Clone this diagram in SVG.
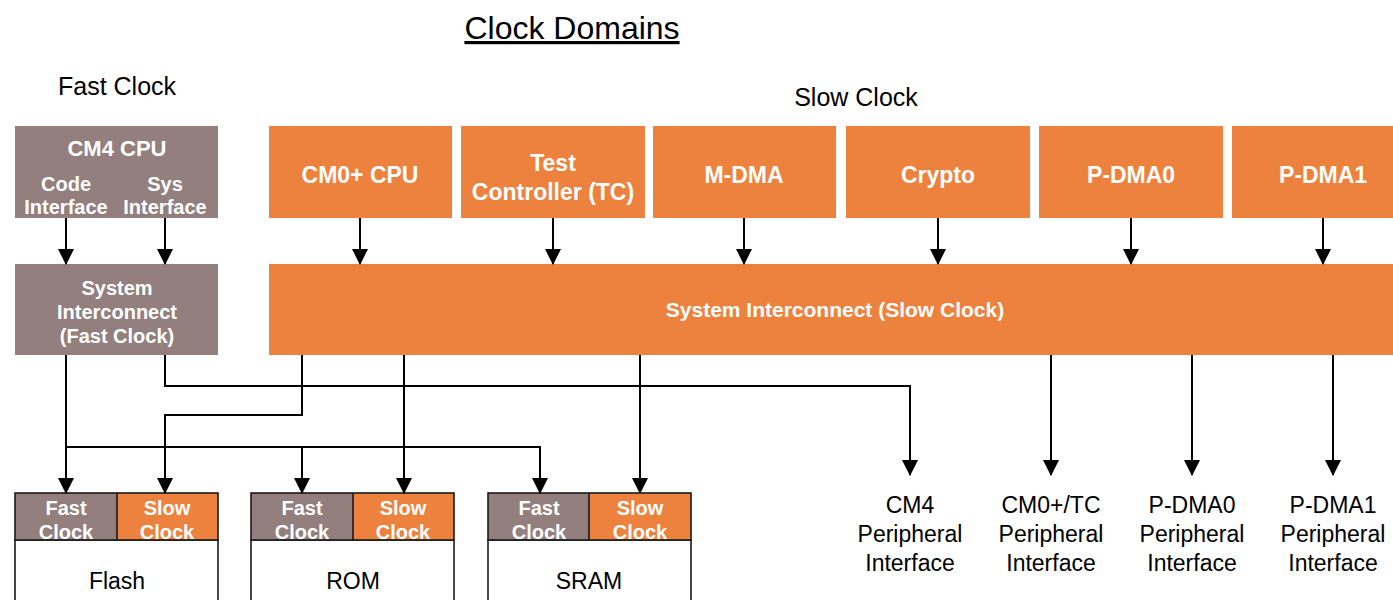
<svg xmlns="http://www.w3.org/2000/svg" width="1393" height="600" viewBox="0 0 1393 600">
  <style>
    text { font-family: "Liberation Sans", Arial, sans-serif; text-anchor: middle; }
    .fast { fill: #927F7E; }
    .slow { fill: #ED823E; }
    .lbl { fill: #FFFFFF; font-weight: bold; }
    .big { font-size: 23px; }
    .mid { font-size: 20px; }
    .plain { fill: #000000; font-size: 23px; }
    .hdr { fill: #000000; font-size: 25px; }
    .frame { fill: none; stroke: #1a1a1a; stroke-width: 1.6; }
    .body { fill: #FFFFFF; stroke: #1a1a1a; stroke-width: 1.6; }
    .wire { fill: none; stroke: #000000; stroke-width: 2; }
    .arr { fill: none; stroke: #000000; stroke-width: 2; marker-end: url(#head); }
  </style>
  <defs>
    <marker id="head" viewBox="0 0 16 16" refX="15" refY="8" markerWidth="16" markerHeight="16" markerUnits="userSpaceOnUse" orient="auto">
      <path d="M0,0 L16,8 L0,16 Z" fill="#000000"/>
    </marker>
  </defs>

  <!-- headings -->
  <g id="headings">
    <text x="572" y="39" font-size="32" text-decoration="underline" fill="#000">Clock Domains</text>
    <text class="hdr" x="117" y="95">Fast Clock</text>
    <text class="hdr" x="856" y="106">Slow Clock</text>
  </g>

  <!-- fast clock domain masters -->
  <g id="cm4-cpu">
    <rect class="fast" x="15" y="126" width="203" height="92"/>
    <text class="lbl" x="117" y="156" font-size="22">CM4 CPU</text>
    <text class="lbl mid" x="66" y="191">Code</text>
    <text class="lbl mid" x="66" y="214">Interface</text>
    <text class="lbl mid" x="165" y="191">Sys</text>
    <text class="lbl mid" x="165" y="214">Interface</text>
  </g>
  <g id="fast-interconnect">
    <rect class="fast" x="15" y="264" width="203" height="91"/>
    <text class="lbl mid" x="117" y="295">System</text>
    <text class="lbl mid" x="117" y="319">Interconnect</text>
    <text class="lbl mid" x="117" y="343">(Fast Clock)</text>
  </g>

  <!-- slow clock domain masters -->
  <g id="cm0-cpu">
    <rect class="slow" x="269" y="126" width="183" height="92"/>
    <text class="lbl big" x="360" y="183">CM0+ CPU</text>
  </g>
  <g id="test-controller">
    <rect class="slow" x="461" y="126" width="184" height="92"/>
    <text class="lbl big" x="553" y="171">Test</text>
    <text class="lbl big" x="553" y="200">Controller (TC)</text>
  </g>
  <g id="m-dma">
    <rect class="slow" x="653" y="126" width="183" height="92"/>
    <text class="lbl big" x="744" y="183">M-DMA</text>
  </g>
  <g id="crypto">
    <rect class="slow" x="846" y="126" width="184" height="92"/>
    <text class="lbl big" x="938" y="183">Crypto</text>
  </g>
  <g id="p-dma0">
    <rect class="slow" x="1039" y="126" width="184" height="92"/>
    <text class="lbl big" x="1131" y="183">P-DMA0</text>
  </g>
  <g id="p-dma1">
    <rect class="slow" x="1232" y="126" width="184" height="92"/>
    <text class="lbl big" x="1323" y="183">P-DMA1</text>
  </g>
  <g id="slow-interconnect">
    <rect class="slow" x="269" y="264" width="1150" height="91"/>
    <text class="lbl" x="835" y="317" font-size="21">System Interconnect (Slow Clock)</text>
  </g>

  <!-- memories -->
  <g id="flash">
    <rect class="body" x="15" y="540" width="203" height="70"/>
    <rect class="fast" x="15" y="493" width="102" height="47"/>
    <rect class="slow" x="117" y="493" width="101" height="47"/>
    <text class="lbl mid" x="66" y="515">Fast</text>
    <text class="lbl mid" x="66" y="539">Clock</text>
    <text class="lbl mid" x="167" y="515">Slow</text>
    <text class="lbl mid" x="167" y="539">Clock</text>
    <rect class="frame" x="15" y="493" width="203" height="47"/>
    <line class="frame" x1="117" y1="493" x2="117" y2="540"/>
    <text class="plain" x="117" y="589">Flash</text>
  </g>
  <g id="rom">
    <rect class="body" x="251" y="540" width="203" height="70"/>
    <rect class="fast" x="251" y="493" width="102" height="47"/>
    <rect class="slow" x="353" y="493" width="101" height="47"/>
    <text class="lbl mid" x="302" y="515">Fast</text>
    <text class="lbl mid" x="302" y="539">Clock</text>
    <text class="lbl mid" x="403" y="515">Slow</text>
    <text class="lbl mid" x="403" y="539">Clock</text>
    <rect class="frame" x="251" y="493" width="203" height="47"/>
    <line class="frame" x1="353" y1="493" x2="353" y2="540"/>
    <text class="plain" x="353" y="589">ROM</text>
  </g>
  <g id="sram">
    <rect class="body" x="488" y="540" width="203" height="70"/>
    <rect class="fast" x="488" y="493" width="101" height="47"/>
    <rect class="slow" x="589" y="493" width="102" height="47"/>
    <text class="lbl mid" x="539" y="515">Fast</text>
    <text class="lbl mid" x="539" y="539">Clock</text>
    <text class="lbl mid" x="640" y="515">Slow</text>
    <text class="lbl mid" x="640" y="539">Clock</text>
    <rect class="frame" x="488" y="493" width="203" height="47"/>
    <line class="frame" x1="589" y1="493" x2="589" y2="540"/>
    <text class="plain" x="589" y="589">SRAM</text>
  </g>

  <!-- peripheral interfaces -->
  <g id="cm4-periph">
    <text class="plain" x="910" y="513">CM4</text>
    <text class="plain" x="910" y="542">Peripheral</text>
    <text class="plain" x="910" y="571">Interface</text>
  </g>
  <g id="cm0-periph">
    <text class="plain" x="1051" y="513">CM0+/TC</text>
    <text class="plain" x="1051" y="542">Peripheral</text>
    <text class="plain" x="1051" y="571">Interface</text>
  </g>
  <g id="pdma0-periph">
    <text class="plain" x="1192" y="513">P-DMA0</text>
    <text class="plain" x="1192" y="542">Peripheral</text>
    <text class="plain" x="1192" y="571">Interface</text>
  </g>
  <g id="pdma1-periph">
    <text class="plain" x="1333" y="513">P-DMA1</text>
    <text class="plain" x="1333" y="542">Peripheral</text>
    <text class="plain" x="1333" y="571">Interface</text>
  </g>

  <!-- connectors -->
  <g id="connectors">
    <!-- masters to interconnects -->
    <path class="arr" d="M66,218 V264"/>
    <path class="arr" d="M165,218 V264"/>
    <path class="arr" d="M360,218 V264"/>
    <path class="arr" d="M553,218 V264"/>
    <path class="arr" d="M744,218 V264"/>
    <path class="arr" d="M938,218 V264"/>
    <path class="arr" d="M1131,218 V264"/>
    <path class="arr" d="M1323,218 V264"/>
    <!-- fast interconnect to memory fast ports -->
    <path class="arr" d="M66,355 V493"/>
    <path class="wire" d="M66,447 H302"/>
    <path class="arr" d="M302,447 H540 V493"/>
    <path class="arr" d="M302,447 V493"/>
    <!-- fast interconnect to CM4 peripheral interface -->
    <path class="arr" d="M165,355 V386 H910 V475"/>
    <!-- slow interconnect to memory slow ports -->
    <path class="arr" d="M302,355 V415 H165 V493"/>
    <path class="arr" d="M404,355 V493"/>
    <path class="arr" d="M640,355 V493"/>
    <!-- slow interconnect to peripheral interfaces -->
    <path class="arr" d="M1051,355 V475"/>
    <path class="arr" d="M1192,355 V475"/>
    <path class="arr" d="M1333,355 V475"/>
  </g>
</svg>
